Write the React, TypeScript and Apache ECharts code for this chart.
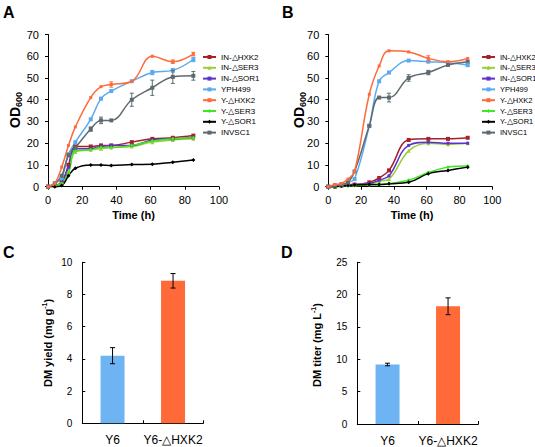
import { useEffect, useRef } from 'react';
import * as echarts from 'echarts';

const FONT = '"Liberation Sans", Arial, Helvetica, sans-serif';

// ---------- data ----------
const strainNames = ['IN-△HXK2', 'IN-△SER3', 'IN-△SOR1', 'YPH499', 'Y-△HXK2', 'Y-△SER3', 'Y-△SOR1', 'INVSC1'];
const strainColors = ['#a3222b', '#9acd3c', '#5b33c9', '#5aaaf0', '#ff6a3a', '#3fe81f', '#000000', '#5d6b70'];
const strainSymbols = ['rect', 'triangle', 'rect', 'rect', 'rect', 'diamond', 'diamond', 'rect'];
const strainSymbolSizes = [4, 4, 3, 4, 3, 4, 4, 4];

const timeA = [0, 4, 8, 12, 16, 25, 31, 37, 49, 61, 73, 85];
const odA_IN_HXK2 = [0, 0.5, 2, 10, 18.5, 18.5, 19, 19, 20.5, 22, 22.5, 23.5];
const odA_IN_SER3 = [0, 0.5, 2, 7, 16, 17, 17.5, 18, 18.5, 20.5, 21.5, 22];
const odA_IN_SOR1 = [0, 0.5, 2, 9, 17.5, 17.5, 18.5, 19, 19, 21.5, 22, 22.5];
const odA_YPH499 = [0, 1.5, 4, 15, 20.5, 31, 40.5, 44, 48.5, 52.5, 53.5, 58.5];
const odA_Y_HXK2 = [0, 1.5, 9, 19, 27.5, 41, 46, 47, 48.5, 60, 57.5, 61];
const odA_Y_SER3 = [0, 0.5, 1.5, 6, 16.5, 17, 18, 18, 19, 21, 22, 22.5];
const odA_Y_SOR1 = [0, 0, 0.5, 5, 8.5, 10, 10, 9.8, 10.2, 10.3, 11.3, 12.3];
const odA_INVSC1 = [0, 1.5, 5, 14.5, 18, 26.5, 30.5, 30.5, 40, 45.5, 50.5, 51];
const errA_Y_HXK2 = [0, 0, 0, 0, 0, 0, 0, 1.2, 0, 0, 0.8, 0.8];
const errA_YPH499 = [0, 0, 0, 0, 0, 0, 0, 0, 0, 1, 0.8, 1];
const errA_INVSC1 = [0, 0, 0, 0, 0, 1, 1.5, 0, 3, 3.5, 3, 2];

const timeB = [0, 4, 8, 12, 16, 25, 31, 37, 49, 61, 73, 85];
const odB_IN_HXK2 = [0, 0, 0.5, 1, 1, 2, 4, 7.5, 21.5, 22, 22, 22.5];
const odB_IN_SER3 = [0, 0, 0.5, 0.8, 1, 1.2, 2.5, 3.5, 16.5, 20, 19.5, 20];
const odB_IN_SOR1 = [0, 0, 0.5, 0.8, 1, 1.5, 3, 5, 19, 20.5, 20, 20];
const odB_YPH499 = [0, 0.5, 1, 2, 3.5, 28, 48.5, 52.5, 58, 57.5, 57, 56];
const odB_Y_HXK2 = [0, 1, 1.5, 3.5, 7, 42.5, 55.5, 62.5, 62, 59, 57.5, 59];
const odB_Y_SER3 = [0, 0, 0.3, 0.5, 0.5, 0.8, 1, 1.5, 3, 6.5, 9, 9.5];
const odB_Y_SOR1 = [0, 0, 0.3, 0.5, 0.8, 1, 1, 1.3, 2, 6, 7.5, 9];
const odB_INVSC1 = [0, 0.5, 1, 2, 7, 28, 41, 41, 50, 52.5, 56, 57.5];
const errB_Y_HXK2 = [0, 0, 0, 0, 0, 0, 0, 0, 0, 1.2, 0, 0];
const errB_YPH499 = [0, 0, 0, 0, 0, 0, 0, 0, 0, 0, 0, 0.8];
const errB_INVSC1 = [0, 0, 0, 0, 0, 0, 0, 2, 1.5, 1, 0, 0];

const barCategories = ['Y6', 'Y6-△HXK2'];
const barColors = ['#6eb4f3', '#ff6a38'];
const yieldValues = [4.2, 8.85];
const yieldErrors = [0.5, 0.45];
const titerValues = [9.2, 18.2];
const titerErrors = [0.2, 1.3];

const odTicksMax = 70;
const timeMax = 100;

// ---------- helpers ----------
let measureCtx: CanvasRenderingContext2D | null = null;
function measure(text: string, size: number, weight: string) {
  if (!measureCtx) measureCtx = document.createElement('canvas').getContext('2d');
  if (!measureCtx) return text.length * size * 0.6;
  measureCtx.font = `${weight} ${size}px ${FONT}`;
  return measureCtx.measureText(text).width;
}

type Part = { text: string; size: number; dy: number };
function verticalLabel(cx: number, cy: number, parts: Part[]) {
  const widths = parts.map((p) => measure(p.text, p.size, 'bold'));
  const total = widths.reduce((a, b) => a + b, 0);
  let x = -total / 2;
  const children = parts.map((p, i) => {
    const el = {
      type: 'text',
      x,
      y: p.dy,
      style: {
        text: p.text,
        fontSize: p.size,
        fontWeight: 'bold',
        fontFamily: FONT,
        fill: '#000',
        align: 'left',
        verticalAlign: 'middle',
      },
    };
    x += widths[i];
    return el;
  });
  return { type: 'group', x: cx, y: cy, rotation: Math.PI / 2, children };
}

function plainText(x: number, y: number, text: string, size: number, bold: boolean, align = 'left', vAlign = 'top') {
  return {
    type: 'text',
    x,
    y,
    style: {
      text,
      fontSize: size,
      fontWeight: bold ? 'bold' : 'normal',
      fontFamily: FONT,
      fill: '#000',
      align,
      verticalAlign: vAlign,
    },
  };
}

function errRender(capHalf: number) {
  return (_params: any, api: any) => {
    const x = api.value(0);
    const lo = api.value(1);
    const hi = api.value(2);
    const p1 = api.coord([x, lo]);
    const p2 = api.coord([x, hi]);
    const color = api.visual('color');
    const style = { stroke: color, lineWidth: 1, fill: 'none' };
    return {
      type: 'group',
      children: [
        { type: 'line', shape: { x1: p1[0], y1: p1[1], x2: p2[0], y2: p2[1] }, style },
        { type: 'line', shape: { x1: p1[0] - capHalf, y1: p1[1], x2: p1[0] + capHalf, y2: p1[1] }, style },
        { type: 'line', shape: { x1: p2[0] - capHalf, y1: p2[1], x2: p2[0] + capHalf, y2: p2[1] }, style },
      ],
    };
  };
}

function lineSeries(times: number[], sets: number[][], axis: number) {
  return sets.map((vals, i) => ({
    name: strainNames[i],
    type: 'line',
    xAxisIndex: axis,
    yAxisIndex: axis,
    data: times.map((t, j) => [t, vals[j]]),
    smooth: 0.4,
    symbol: strainSymbols[i],
    symbolSize: strainSymbolSizes[i],
    showSymbol: true,
    color: strainColors[i],
    lineStyle: { width: 1.5, color: strainColors[i] },
    itemStyle: { color: strainColors[i] },
    z: 2 + (i === 4 ? 1 : 0),
  }));
}

function errSeries(name: string, times: number[], vals: number[], errs: number[], colorIdx: number, axis: number) {
  const data: number[][] = [];
  times.forEach((t, j) => {
    if (errs[j] > 0) data.push([t, vals[j] - errs[j], vals[j] + errs[j]]);
  });
  return {
    name,
    type: 'custom',
    xAxisIndex: axis,
    yAxisIndex: axis,
    data,
    renderItem: errRender(2),
    itemStyle: { color: strainColors[colorIdx] },
    z: 4,
  };
}

function barErrSeries(name: string, vals: number[], errs: number[], axis: number) {
  return {
    name,
    type: 'custom',
    xAxisIndex: axis,
    yAxisIndex: axis,
    data: vals.map((v, i) => [i, v - errs[i], v + errs[i]]),
    renderItem: errRender(2.5),
    itemStyle: { color: '#000' },
    z: 5,
  };
}

const axisLine = { show: true, lineStyle: { color: '#000', width: 1 } };

function odXAxis(grid: number) {
  return {
    gridIndex: grid,
    type: 'value',
    min: 0,
    max: timeMax,
    interval: 20,
    axisLine,
    axisTick: { show: true, length: 3, inside: false, lineStyle: { color: '#000' } },
    axisLabel: { fontSize: 11, color: '#000', margin: 8, fontFamily: FONT },
    splitLine: { show: false },
  };
}
function odYAxis(grid: number) {
  return {
    gridIndex: grid,
    type: 'value',
    min: 0,
    max: odTicksMax,
    interval: 10,
    axisLine,
    axisTick: { show: true, length: 3, inside: false, lineStyle: { color: '#000' } },
    axisLabel: { fontSize: 11, color: '#000', margin: 9, fontFamily: FONT },
    splitLine: { show: false },
  };
}
function barXAxis(grid: number) {
  return {
    gridIndex: grid,
    type: 'category',
    data: barCategories,
    axisLine,
    axisTick: { show: true, length: 3, inside: true, lineStyle: { color: '#000' } },
    axisLabel: { fontSize: 12, color: '#000', margin: 11, fontFamily: FONT, interval: 0, hideOverlap: false },
    splitLine: { show: false },
  };
}
function barYAxis(grid: number, max: number, interval: number) {
  return {
    gridIndex: grid,
    type: 'value',
    min: 0,
    max,
    interval,
    axisLine,
    axisTick: { show: true, length: 3, inside: true, lineStyle: { color: '#000' } },
    axisLabel: { fontSize: 10, color: '#000', margin: 10, fontFamily: FONT },
    splitLine: { show: false },
  };
}

function legendAt(left: number, top: number, textGap: number, fontSize: number) {
  return {
    orient: 'vertical',
    left,
    top,
    data: strainNames,
    itemWidth: 13,
    itemHeight: 5,
    itemGap: 0,
    padding: 0,
    textGap,
    textStyle: { fontSize, color: '#000', fontFamily: FONT, lineHeight: 10.8, overflow: 'none' },
    selectedMode: false,
  };
}

export default function App() {
  const ref = useRef<HTMLDivElement>(null);
  useEffect(() => {
    if (!ref.current) return;
    const chart = echarts.init(ref.current, undefined, { renderer: 'svg' });

    const setsA = [odA_IN_HXK2, odA_IN_SER3, odA_IN_SOR1, odA_YPH499, odA_Y_HXK2, odA_Y_SER3, odA_Y_SOR1, odA_INVSC1];
    const setsB = [odB_IN_HXK2, odB_IN_SER3, odB_IN_SOR1, odB_YPH499, odB_Y_HXK2, odB_Y_SER3, odB_Y_SOR1, odB_INVSC1];

    const option: any = {
      animation: false,
      backgroundColor: '#fff',
      textStyle: { fontFamily: FONT },
      grid: [
        { left: 48, top: 34.5, width: 171, height: 152.2 },
        { left: 328.3, top: 34.5, width: 164, height: 152.2 },
        { left: 82.3, top: 262.3, width: 121, height: 161 },
        { left: 357.3, top: 262.3, width: 121, height: 163 },
      ],
      xAxis: [odXAxis(0), odXAxis(1), barXAxis(2), barXAxis(3)],
      yAxis: [odYAxis(0), odYAxis(1), barYAxis(2, 10, 2), barYAxis(3, 25, 5)],
      legend: [legendAt(202, 51.6, 5, 8), legendAt(481, 51.6, 3, 7.5)],
      series: [
        ...lineSeries(timeA, setsA, 0),
        ...lineSeries(timeB, setsB, 1),
        errSeries('errA1', timeA, odA_Y_HXK2, errA_Y_HXK2, 4, 0),
        errSeries('errA2', timeA, odA_YPH499, errA_YPH499, 3, 0),
        errSeries('errA3', timeA, odA_INVSC1, errA_INVSC1, 7, 0),
        errSeries('errB1', timeB, odB_Y_HXK2, errB_Y_HXK2, 4, 1),
        errSeries('errB2', timeB, odB_YPH499, errB_YPH499, 3, 1),
        errSeries('errB3', timeB, odB_INVSC1, errB_INVSC1, 7, 1),
        {
          name: 'DM yield',
          type: 'bar',
          xAxisIndex: 2,
          yAxisIndex: 2,
          barWidth: 24,
          data: yieldValues.map((v, i) => ({ value: v, itemStyle: { color: barColors[i] } })),
        },
        barErrSeries('yieldErr', yieldValues, yieldErrors, 2),
        {
          name: 'DM titer',
          type: 'bar',
          xAxisIndex: 3,
          yAxisIndex: 3,
          barWidth: 24,
          data: titerValues.map((v, i) => ({ value: v, itemStyle: { color: barColors[i] } })),
        },
        barErrSeries('titerErr', titerValues, titerErrors, 3),
      ],
      graphic: [
        plainText(3, 4, 'A', 16, true),
        plainText(282, 4, 'B', 16, true),
        plainText(3, 244, 'C', 16, true),
        plainText(281, 244, 'D', 16, true),
        plainText(133.5, 215, 'Time (h)', 11, true, 'center', 'middle'),
        plainText(412, 215, 'Time (h)', 11, true, 'center', 'middle'),
        verticalLabel(15, 110, [
          { text: 'OD', size: 14, dy: 0 },
          { text: '600', size: 9, dy: 4 },
        ]),
        verticalLabel(299, 110, [
          { text: 'OD', size: 14, dy: 0 },
          { text: '600', size: 9, dy: 4 },
        ]),
        verticalLabel(48, 343, [
          { text: 'DM yield (mg g', size: 11, dy: 0 },
          { text: '-1', size: 7, dy: -3.5 },
          { text: ')', size: 11, dy: 0 },
        ]),
        verticalLabel(317, 345, [
          { text: 'DM titer (mg L', size: 11, dy: 0 },
          { text: '-1', size: 7, dy: -3.5 },
          { text: ')', size: 11, dy: 0 },
        ]),
      ],
    };
    chart.setOption(option);
    return () => chart.dispose();
  }, []);
  return <div ref={ref} style={{ position: 'absolute', left: 0, top: 0, width: 535, height: 447 }} />;
}
